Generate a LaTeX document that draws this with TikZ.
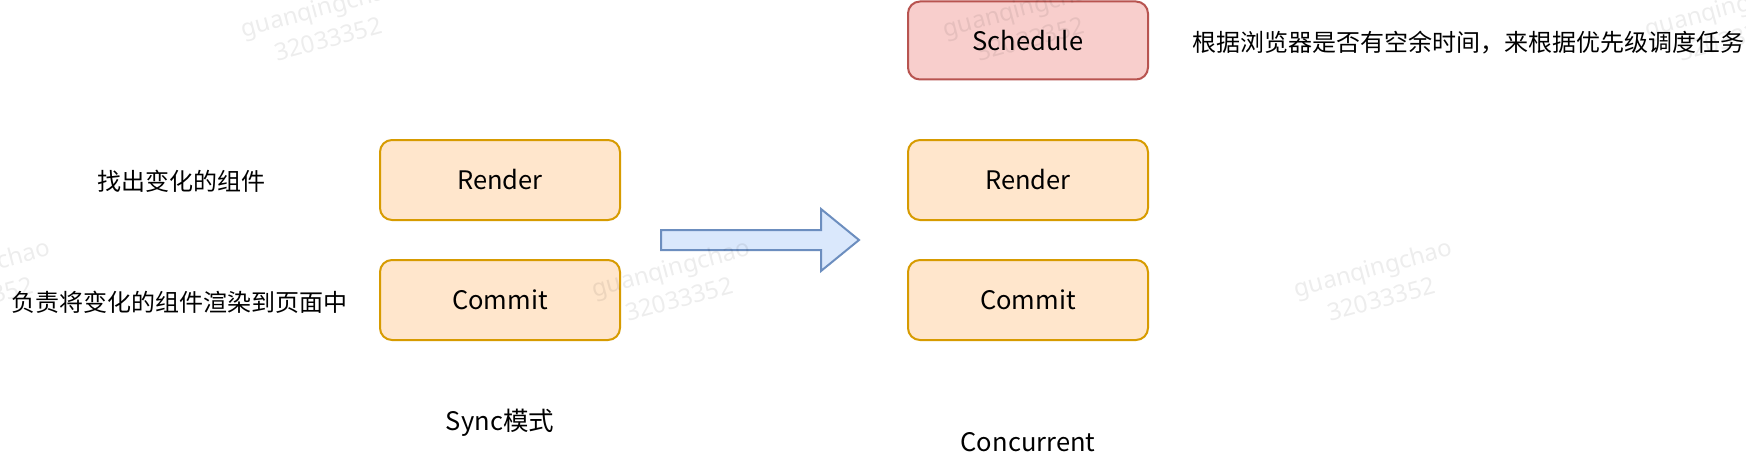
\documentclass[tikz,border=0pt]{standalone}
\usepackage{fontspec}
\setmainfont{Noto Sans CJK SC}
\newfontfamily\wmfont{Noto Sans}
\definecolor{orfill}{HTML}{FFE6CC}
\definecolor{ordraw}{HTML}{D79B00}
\definecolor{rdfill}{HTML}{F8CECC}
\definecolor{rddraw}{HTML}{B85450}
\definecolor{blfill}{HTML}{DAE8FC}
\definecolor{bldraw}{HTML}{6C8EBF}
\begin{document}
\begin{tikzpicture}[x=1pt,y=-1pt,
  box/.style={rounded corners=12pt, line width=2pt, minimum width=240pt, minimum height=80pt, inner sep=0pt, font=\fontsize{25.5}{30}\selectfont},
  orbox/.style={box, fill=orfill, draw=ordraw},
  rdbox/.style={box, fill=rdfill, draw=rddraw, minimum height=78pt},
  cjk/.style={inner sep=0pt, font=\fontsize{24}{28}\selectfont},
  lbl/.style={inner sep=0pt, font=\fontsize{25.5}{30}\selectfont},
  wm/.style={rotate=15, inner sep=0pt, align=center, text=black, text opacity=0.07, font=\wmfont\fontsize{24}{32}\selectfont}]
\useasboundingbox (0,0) rectangle (1746,460);
\fill[white] (0,0) rectangle (1746,460);

% left column (Sync)
\node[orbox] (renderL) at (500,180) {Render};
\node[orbox] (commitL) at (500,300) {Commit};
\node[cjk] (findtxt) at (181,181) {找出变化的组件};
\node[cjk] (committxt) at (180,302) {负责将变化的组件渲染到页面中};
\node[lbl] (sync) at (500,423) {Sync模式};

% block arrow
\draw[line width=2pt, draw=bldraw, fill=blfill, line join=miter]
  (661,230) -- (821,230) -- (821,209) -- (859,240) -- (821,271) -- (821,250) -- (661,250) -- cycle;

% right column (Concurrent)
\node[rdbox] (schedule) at (1028,40.5) {Schedule};
\node[orbox] (renderR) at (1028,180) {Render};
\node[orbox] (commitR) at (1028,300) {Commit};
\node[cjk] (schedtxt) at (1468,43) {根据浏览器是否有空余时间，来根据优先级调度任务};
\node[lbl] (conc) at (1028,442) {Concurrent};

% watermarks
\node[wm] (wm1) at (324,23) {guanqingchao\\32033352};
\node[wm] (wm2) at (1026,23) {guanqingchao\\32033352};
\node[wm] (wm3) at (1728,23) {guanqingchao\\32033352};
\node[wm] (wm4) at (-25,283) {guanqingchao\\32033352};
\node[wm] (wm5) at (675,283) {guanqingchao\\32033352};
\node[wm] (wm6) at (1377,283) {guanqingchao\\32033352};
\end{tikzpicture}
\end{document}
